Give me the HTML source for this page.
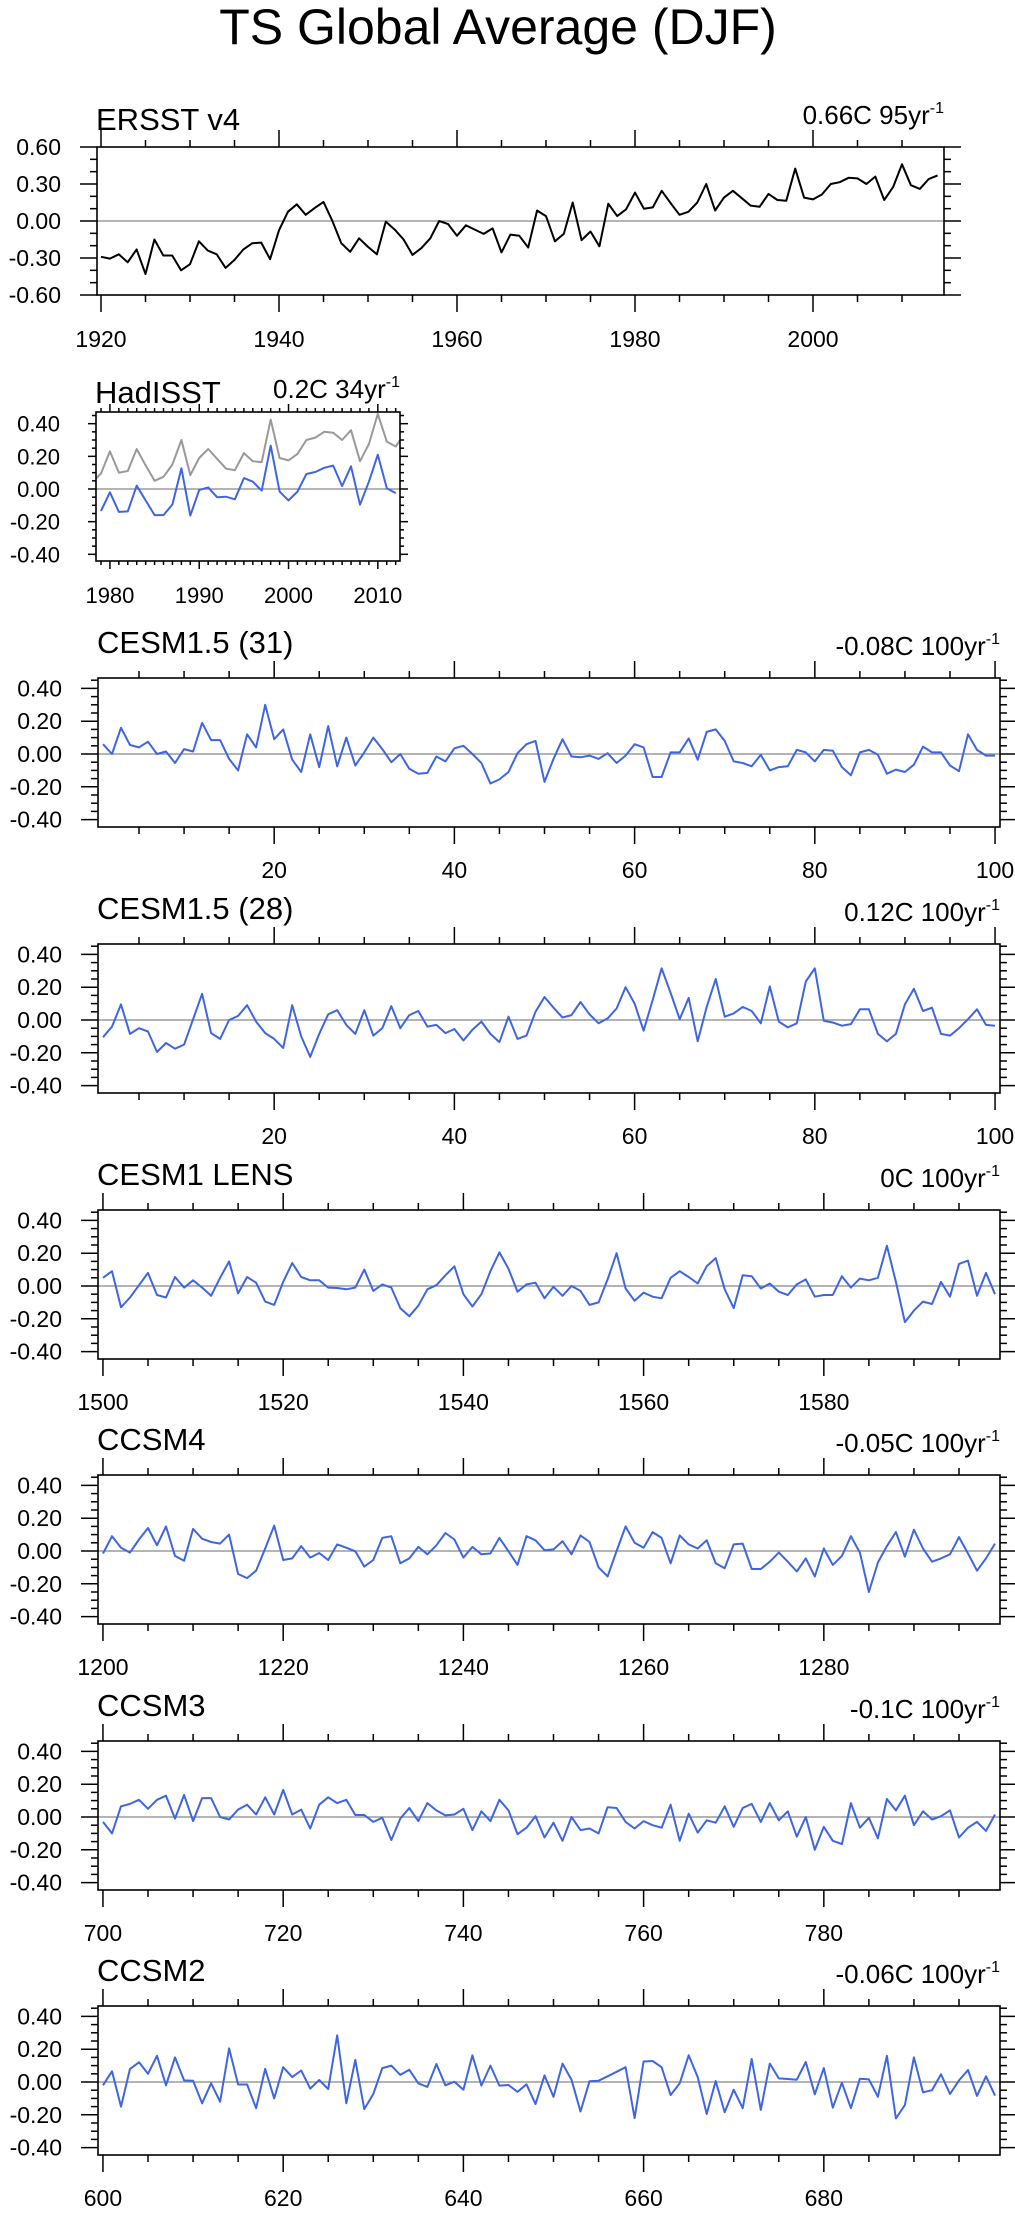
<!DOCTYPE html>
<html><head><meta charset="utf-8"><title>TS Global Average (DJF)</title>
<style>
html,body{margin:0;padding:0;background:#fff;}
svg{display:block;font-family:"Liberation Sans",Arial,sans-serif;}
</style></head>
<body>
<svg id="chart" width="1015" height="2216" viewBox="0 0 1015 2216" xmlns="http://www.w3.org/2000/svg">
<text x="498" y="44" font-size="50" text-anchor="middle">TS Global Average (DJF)</text>
</svg>
<script>
// ---------- data ----------
const ersstYears = [1920, 2014];
const ersstValues = [
-0.29,-0.305,-0.27,-0.335,-0.23,-0.43,-0.15,-0.28,-0.28,-0.40,
-0.35,-0.165,-0.24,-0.27,-0.38,-0.315,-0.23,-0.18,-0.175,-0.31,
-0.075,0.075,0.135,0.05,0.105,0.155,0.0,-0.18,-0.25,-0.14,
-0.21,-0.27,-0.005,-0.07,-0.15,-0.275,-0.22,-0.14,0.0,-0.025,
-0.12,-0.035,-0.07,-0.105,-0.06,-0.255,-0.11,-0.12,-0.215,0.085,
0.04,-0.165,-0.105,0.15,-0.155,-0.085,-0.205,0.14,0.04,0.095,
0.23,0.10,0.11,0.245,0.145,0.05,0.075,0.15,0.30,0.085,
0.19,0.245,0.185,0.125,0.115,0.22,0.17,0.165,0.425,0.19,
0.175,0.215,0.30,0.315,0.35,0.345,0.30,0.36,0.17,0.275,
0.46,0.29,0.26,0.34,0.37];
const hadYears = [1979, 2012];
const hadValues = [
-0.135,-0.02,-0.14,-0.137,0.02,-0.07,-0.16,-0.16,-0.095,0.127,
-0.163,-0.006,0.01,-0.05,-0.047,-0.063,0.067,0.045,-0.01,0.265,
-0.016,-0.07,-0.016,0.092,0.104,0.13,0.143,0.018,0.139,-0.096,
0.045,0.21,0.004,-0.025];
const cesm31Values = [
0.06,0.00,0.16,0.055,0.04,0.075,0.0,0.015,-0.055,0.03,
0.015,0.19,0.085,0.085,-0.03,-0.10,0.12,0.04,0.30,0.09,
0.15,-0.035,-0.11,0.12,-0.08,0.17,-0.075,0.10,-0.07,0.01,
0.10,0.03,-0.05,0.0,-0.09,-0.12,-0.115,-0.015,-0.045,0.035,
0.05,0.0,-0.055,-0.18,-0.155,-0.11,0.005,0.06,0.08,-0.17,
-0.03,0.09,-0.015,-0.02,-0.01,-0.03,0.005,-0.055,-0.01,0.06,
0.04,-0.14,-0.14,0.01,0.01,0.095,-0.035,0.135,0.15,0.08,
-0.045,-0.055,-0.075,-0.005,-0.10,-0.08,-0.075,0.025,0.01,-0.045,
0.025,0.02,-0.08,-0.13,0.01,0.025,-0.005,-0.12,-0.095,-0.11,
-0.065,0.045,0.01,0.01,-0.07,-0.105,0.12,0.025,-0.01,-0.01];
const cesm28Values = [
-0.105,-0.04,0.095,-0.085,-0.05,-0.07,-0.195,-0.14,-0.175,-0.15,
0.005,0.16,-0.08,-0.115,0.0,0.025,0.09,-0.01,-0.08,-0.115,
-0.17,0.09,-0.10,-0.225,-0.085,0.035,0.06,-0.03,-0.085,0.06,
-0.095,-0.05,0.085,-0.05,0.03,0.055,-0.04,-0.03,-0.08,-0.055,
-0.125,-0.06,-0.01,-0.085,-0.135,0.02,-0.115,-0.095,0.05,0.14,
0.075,0.015,0.03,0.11,0.035,-0.02,0.01,0.07,0.20,0.10,
-0.065,0.12,0.315,0.165,0.005,0.135,-0.13,0.08,0.25,0.02,
0.04,0.08,0.055,-0.02,0.205,-0.01,-0.045,-0.02,0.235,0.315,
-0.005,-0.015,-0.035,-0.025,0.065,0.065,-0.085,-0.13,-0.085,0.095,
0.19,0.055,0.075,-0.085,-0.095,-0.05,0.005,0.065,-0.03,-0.035];
const lensValues = [
0.05,0.09,-0.13,-0.07,0.005,0.08,-0.055,-0.07,0.055,-0.01,
0.035,-0.01,-0.06,0.05,0.15,-0.045,0.055,0.02,-0.095,-0.115,
0.025,0.14,0.055,0.035,0.035,-0.01,-0.012,-0.02,-0.01,0.10,
-0.03,0.01,-0.01,-0.135,-0.185,-0.12,-0.02,0.005,0.065,0.12,
-0.05,-0.125,-0.05,0.09,0.205,0.105,-0.035,0.01,0.02,-0.075,
-0.005,-0.06,0.0,-0.03,-0.115,-0.10,0.04,0.20,-0.015,-0.09,
-0.04,-0.065,-0.075,0.05,0.09,0.055,0.015,0.12,0.17,-0.02,
-0.135,0.065,0.06,-0.015,0.015,-0.035,-0.055,0.01,0.04,-0.065,
-0.055,-0.055,0.06,-0.01,0.045,0.035,0.05,0.245,0.025,-0.22,
-0.15,-0.095,-0.11,0.025,-0.065,0.135,0.155,-0.06,0.08,-0.05];
const ccsm4Values = [
-0.015,0.09,0.02,-0.01,0.07,0.14,0.035,0.15,-0.03,-0.06,
0.135,0.075,0.055,0.045,0.10,-0.14,-0.165,-0.12,0.015,0.155,
-0.055,-0.045,0.03,-0.04,-0.012,-0.055,0.04,0.02,-0.002,-0.095,
-0.055,0.08,0.09,-0.075,-0.045,0.025,-0.02,0.035,0.11,0.07,
-0.04,0.025,-0.02,-0.015,0.08,-0.002,-0.085,0.09,0.065,0.005,
0.01,0.06,-0.02,0.095,0.055,-0.10,-0.155,0.0,0.15,0.05,
0.02,0.115,0.08,-0.075,0.095,0.04,0.015,0.065,-0.075,-0.105,
0.04,0.045,-0.11,-0.11,-0.065,-0.01,-0.065,-0.125,-0.045,-0.155,
0.015,-0.085,-0.03,0.09,-0.01,-0.25,-0.07,0.03,0.115,-0.035,
0.13,0.015,-0.065,-0.045,-0.02,0.085,-0.015,-0.12,-0.045,0.045];
const ccsm3Values = [
-0.03,-0.10,0.065,0.08,0.105,0.05,0.105,0.13,-0.01,0.135,
-0.025,0.115,0.115,0.0,-0.015,0.045,0.075,0.015,0.12,0.015,
0.165,0.015,0.045,-0.07,0.075,0.12,0.085,0.105,0.012,0.012,
-0.03,-0.005,-0.14,-0.01,0.055,-0.025,0.085,0.04,0.01,0.015,
0.05,-0.08,0.035,-0.025,0.105,0.04,-0.105,-0.065,0.005,-0.125,
-0.035,-0.145,0.0,-0.08,-0.07,-0.10,0.06,0.055,-0.03,-0.07,
-0.025,-0.05,-0.065,0.075,-0.145,0.02,-0.095,-0.02,-0.035,0.065,
-0.06,0.055,0.08,-0.03,0.085,-0.02,0.035,-0.12,0.0,-0.20,
-0.06,-0.145,-0.165,0.085,-0.065,-0.005,-0.13,0.11,0.04,0.13,
-0.05,0.035,-0.015,0.005,0.04,-0.125,-0.065,-0.03,-0.085,0.015];
const ccsm2Values = [
-0.02,0.065,-0.15,0.08,0.12,0.05,0.16,-0.02,0.15,0.01,
0.008,-0.13,-0.008,-0.12,0.205,-0.015,-0.015,-0.16,0.08,-0.10,
0.09,0.03,0.07,-0.04,0.012,-0.043,0.285,-0.13,0.135,-0.165,
-0.073,0.085,0.10,0.043,0.075,-0.008,-0.03,0.11,-0.02,0.002,
-0.047,0.163,-0.022,0.10,-0.022,-0.018,-0.06,-0.014,-0.135,0.04,
-0.09,0.112,0.014,-0.18,0.004,0.008,0.035,0.062,0.09,-0.22,
0.125,0.128,0.09,-0.08,-0.008,0.163,0.03,-0.195,0.006,-0.185,
-0.047,-0.16,0.14,-0.17,0.112,0.022,0.018,0.014,0.122,-0.075,
0.085,-0.157,-0.004,-0.16,0.02,0.016,-0.09,0.16,-0.222,-0.14,
0.15,-0.063,-0.05,0.047,-0.073,0.01,0.073,-0.085,0.035,-0.083];
const ersstYTicks = ["0.60","0.30","0.00","-0.30","-0.60"];
const modelYTicks = ["0.40","0.20","0.00","-0.20","-0.40"];
const ersstXTicks = ["1920","1940","1960","1980","2000"];
const hadXTicks = ["1980","1990","2000","2010"];
const cesmXTicks = ["20","40","60","80","100"];
const lensXTicks = ["1500","1520","1540","1560","1580"];
const ccsm4XTicks = ["1200","1220","1240","1260","1280"];
const ccsm3XTicks = ["700","720","740","760","780"];
const ccsm2XTicks = ["600","620","640","660","680"];

// ---------- drawing ----------
const NS = "http://www.w3.org/2000/svg";
const svg = document.getElementById('chart');
function mk(tag, attrs, parent) {
  const e = document.createElementNS(NS, tag);
  for (const k in attrs) e.setAttribute(k, attrs[k]);
  (parent || svg).appendChild(e);
  return e;
}
let clipId = 0;
function panel(p) {
  const g = mk('g', {});
  
  
  const X = t => p.L + (t - p.x0) * (p.R - p.L) / (p.x1 - p.x0);
  const Y = v => p.Z - v * p.pxPer;
  const T = p.Z - p.up, B = p.Z + p.down;
  // ticks
  const tk = mk('g', {stroke: '#000', 'stroke-width': 1.5}, g);
  
  
  const xs = Math.ceil(p.x0 / p.xMinor) * p.xMinor;
  for (let t = xs; t <= p.x1 + 1e-9; t += p.xMinor) {
    const major = Math.abs(t / p.xMajor - Math.round(t / p.xMajor)) < 1e-6;
    const len = major ? p.tMaj : p.tMin;
    const x = X(t);
    mk('line', {x1: x, x2: x, y1: B, y2: B + len}, tk);
    mk('line', {x1: x, x2: x, y1: T, y2: T - len}, tk);
  }
  const yLo = -p.down / p.pxPer, yHi = p.up / p.pxPer;
  const ys = Math.ceil(yLo / p.yMinor - 1e-6);
  for (let k = ys; k * p.yMinor <= yHi + 1e-9; k++) {
    const v = k * p.yMinor;
    const major = Math.abs(v / p.yMajor - Math.round(v / p.yMajor)) < 1e-6;
    const len = major ? p.tMaj : p.tMin;
    const y = Y(v);
    mk('line', {x1: p.L, x2: p.L - len, y1: y, y2: y}, tk);
    mk('line', {x1: p.R, x2: p.R + len, y1: y, y2: y}, tk);
  }
  // zero line
  const zl = mk('line', {x1: p.L, x2: p.R, y1: p.Z, y2: p.Z, stroke: '#888', 'stroke-width': 1.2}, g);
  
  
  // clip
  const cid = 'clip' + (clipId++);
  const cp = mk('clipPath', {id: cid}, g);
  mk('rect', {x: p.L, y: T, width: p.R - p.L, height: B - T}, cp);
  // series
  p.series.forEach(s => {
    const pts = s.values.map((v, i) => X(s.start + i).toFixed(1) + ',' + Y(v).toFixed(1)).join(' ');
    const pl = mk('polyline', {points: pts, fill: 'none', stroke: s.color, 'stroke-width': s.w, 'stroke-linejoin': 'round', 'clip-path': 'url(#' + cid + ')'}, g);
    
    
  });
  // box
  const bx = mk('rect', {x: p.L, y: T, width: p.R - p.L, height: B - T, fill: 'none', stroke: '#000', 'stroke-width': 1.6}, g);
  
  
  // y labels
  p.yLabels.forEach((lab, i) => {
    const v = parseFloat(lab);
    const t = mk('text', {x: p.L - 36, y: Y(v) + 8, 'font-size': p.fs, 'text-anchor': 'end'}, g);
    t.textContent = lab;
    
    
  });
  p.xLabels.forEach(lab => {
    const v = parseFloat(lab);
    const t = mk('text', {x: X(v), y: B + p.xlOff, 'font-size': p.fs, 'text-anchor': 'middle'}, g);
    t.textContent = lab;
    
    
  });
  const ti = mk('text', {x: p.L - 1, y: p.titleY, 'font-size': 31}, g);
  ti.textContent = p.title;
  
  
  const tr = mk('text', {x: p.R, y: p.trendY, 'font-size': 26, 'text-anchor': 'end'}, g);
  
  
  const t1 = mk('tspan', {}, tr); t1.textContent = p.trend + 'yr';
  const t2 = mk('tspan', {'font-size': 16, dy: -11}, tr); t2.textContent = '-1';
}

// ERSST
panel({name: 'ersst', L: 97, R: 944, x0: 1920 - 4 / 8.9, x1: 1920 + 843 / 8.9, Z: 221, up: 74, down: 74, pxPer: 74 / 0.6,
  xMajor: 20, xMinor: 5, yMajor: 0.3, yMinor: 0.1, tMaj: 17, tMin: 7, fs: 23, xlOff: 52,
  yLabels: ersstYTicks, xLabels: ersstXTicks, title: 'ERSST v4', titleY: 130, trend: '0.66C 95', trendY: 124,
  series: [{name: 'ersst-line', start: ersstYears[0], values: ersstValues, color: '#000', w: 2}]});
// HadISST
panel({name: 'hadisst', L: 96, R: 400, x0: 1979 - 5 / 8.93, x1: 1979 + 299 / 8.93, Z: 489, up: 77, down: 72, pxPer: 163.3,
  xMajor: 10, xMinor: 1, yMajor: 0.2, yMinor: 0.05, tMaj: 8, tMin: 4, fs: 22, xlOff: 42,
  yLabels: modelYTicks, xLabels: hadXTicks, title: 'HadISST', titleY: 403, trend: '0.2C 34', trendY: 398,
  series: [
    {name: 'ersst-reference-line', start: ersstYears[0], values: ersstValues, color: '#999', w: 2},
    {name: 'hadisst-line', start: hadYears[0], values: hadValues, color: '#3f66e0', w: 2}]});
const models = [
  {name: 'cesm15-31', title: 'CESM1.5 (31)', trend: '-0.08C 100', start: 1, vals: cesm31Values, xl: cesmXTicks, Z: 754},
  {name: 'cesm15-28', title: 'CESM1.5 (28)', trend: '0.12C 100', start: 1, vals: cesm28Values, xl: cesmXTicks, Z: 1020},
  {name: 'cesm1-lens', title: 'CESM1 LENS', trend: '0C 100', start: 1500, vals: lensValues, xl: lensXTicks, Z: 1286},
  {name: 'ccsm4', title: 'CCSM4', trend: '-0.05C 100', start: 1200, vals: ccsm4Values, xl: ccsm4XTicks, Z: 1551},
  {name: 'ccsm3', title: 'CCSM3', trend: '-0.1C 100', start: 700, vals: ccsm3Values, xl: ccsm3XTicks, Z: 1817},
  {name: 'ccsm2', title: 'CCSM2', trend: '-0.06C 100', start: 600, vals: ccsm2Values, xl: ccsm2XTicks, Z: 2082}];
models.forEach(m => {
  panel({name: m.name, L: 98, R: 1000, x0: m.start - 0.55, x1: m.start + 99.55, Z: m.Z, up: 76, down: 73, pxPer: 164,
    xMajor: 20, xMinor: 5, yMajor: 0.2, yMinor: 0.05, tMaj: 17, tMin: 7, fs: 23, xlOff: 51,
    yLabels: modelYTicks, xLabels: m.xl, title: m.title, titleY: m.Z - 101, trend: m.trend, trendY: m.Z - 99,
    series: [{name: m.name + '-line', start: m.start, values: m.vals, color: '#3f66e0', w: 2}]});
});
</script>
</body></html>
